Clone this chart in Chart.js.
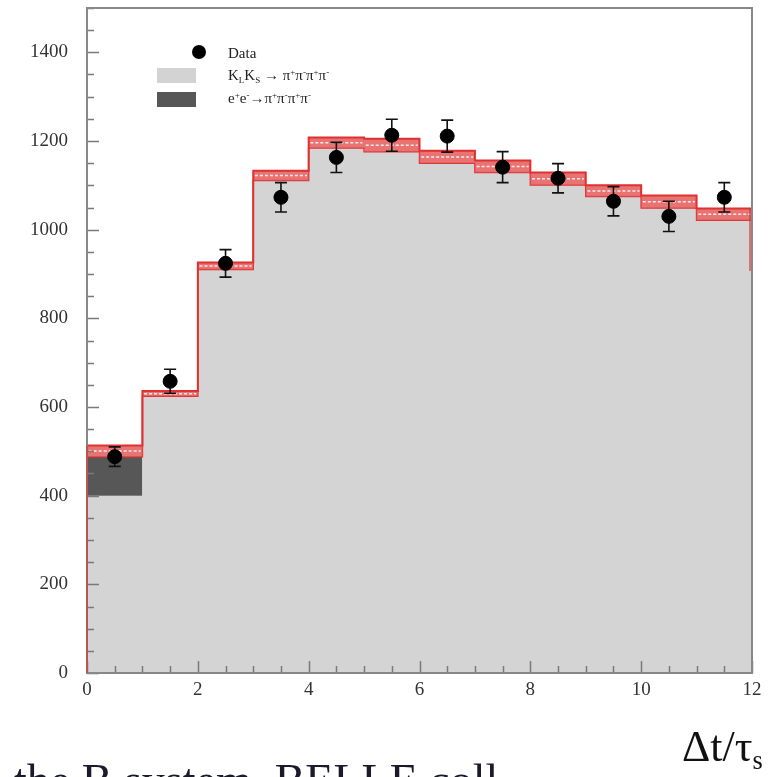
<!DOCTYPE html>
<html><head><meta charset="utf-8">
<script src="https://cdn.jsdelivr.net/npm/chart.js@4.4.0/dist/chart.umd.min.js"></script>
<style>
html,body{margin:0;padding:0;width:768px;height:777px;overflow:hidden;background:#fff;}
#wrap{position:relative;width:768px;height:777px;overflow:hidden;}
canvas{position:absolute;left:0;top:0;}
.t{position:absolute;font-family:'Liberation Serif','Times New Roman',serif;color:#222;white-space:nowrap;line-height:1;}
.t sup{font-size:0.6em;vertical-align:0.55em;line-height:0;}
.t sub{font-size:0.6em;vertical-align:-0.3em;line-height:0;}
.box{position:absolute;}
</style></head><body>
<div id="wrap">
<canvas id="c" width="768" height="777"></canvas>
<div class="box" style="left:192px;top:45px;width:14px;height:14px;border-radius:50%;background:#000;"></div>
<div class="t" style="left:228px;top:46px;font-size:15px;">Data</div>
<div class="box" style="left:157px;top:68px;width:39px;height:15px;background:#d3d3d3;"></div>
<div class="t" style="left:228px;top:68px;font-size:15px;">K<sub>L</sub>K<sub>S</sub> → π<sup>+</sup>π<sup>-</sup>π<sup>+</sup>π<sup>-</sup></div>
<div class="box" style="left:157px;top:92px;width:39px;height:15px;background:#575757;"></div>
<div class="t" style="left:228px;top:91px;font-size:15px;">e<sup>+</sup>e<sup>-</sup>→π<sup>+</sup>π<sup>-</sup>π<sup>+</sup>π<sup>-</sup></div>
<div class="t" style="left:682px;top:725px;font-size:44px;color:#111;">Δt/τ<sub>s</sub></div>
<div class="t" style="left:14px;top:758px;font-size:46px;color:#1a1a2a;">the B system. BELLE coll</div>
</div>
<script>
// ---- data ----
const binEdges = [0,1,2,3,4,5,6,7,8,9,10,11,12];
const klksBkg  = [400, 624, 910, 1111, 1184, 1176, 1150, 1129, 1101, 1075, 1049, 1021];
const eeBkg    = [88, 0, 0, 0, 0, 0, 0, 0, 0, 0, 0, 0];
const mcUpper  = [513, 636, 926, 1133, 1208, 1205, 1178, 1156, 1129, 1100, 1077, 1048];
const rightEdgeDrop = 907;
const dataX   = [0.5, 1.5, 2.5, 3.5, 4.5, 5.5, 6.5, 7.5, 8.5, 9.5, 10.5, 11.5];
const dataY   = [488, 658, 924, 1073, 1163, 1213, 1211, 1141, 1116, 1064, 1030, 1073];
const dataErr = [22, 27, 31, 33, 34, 36, 36, 35, 33, 33, 34, 33];
const yTicks  = [0, 200, 400, 600, 800, 1000, 1200, 1400];
const xTicks  = [0, 2, 4, 6, 8, 10, 12];

const mcLower = klksBkg.map((v,i)=>v+eeBkg[i]);
const mcMid = mcLower.map((v,i)=>(v+mcUpper[i])/2);
function steps(vals){
  const pts = vals.map((v,i)=>({x:binEdges[i], y:v}));
  pts.push({x:binEdges[binEdges.length-1], y:vals[vals.length-1]});
  return pts;
}
function flatSegments(vals){
  const pts = [];
  vals.forEach((v,i)=>{
    pts.push({x:binEdges[i]+0.03, y:v});
    pts.push({x:binEdges[i+1]-0.03, y:v});
    pts.push({x:binEdges[i+1], y:null});
  });
  return pts;
}
const RED = '#e03030';

const decor = {
  id:'decor',
  beforeDatasetDraw(chart, args){
    if(args.index !== 0) return;
    const ctx = chart.ctx, xs = chart.scales.x, ys = chart.scales.y;
    ctx.save();
    ctx.strokeStyle = '#111'; ctx.lineWidth = 1.6;
    dataX.forEach((x,i)=>{
      const px = xs.getPixelForValue(x);
      const y1 = ys.getPixelForValue(dataY[i]-dataErr[i]);
      const y2 = ys.getPixelForValue(dataY[i]+dataErr[i]);
      ctx.beginPath();
      ctx.moveTo(px,y1); ctx.lineTo(px,y2);
      ctx.moveTo(px-6,y1); ctx.lineTo(px+6,y1);
      ctx.moveTo(px-6,y2); ctx.lineTo(px+6,y2);
      ctx.stroke();
    });
    ctx.restore();
  },
  afterDraw(chart){
    const ctx = chart.ctx, xs = chart.scales.x, ys = chart.scales.y, a = chart.chartArea;
    ctx.save();
    ctx.strokeStyle = '#7a7a7a'; ctx.lineWidth = 1.5;
    ctx.beginPath();
    for(let v=0; v<=1500; v+=50){
      const py = Math.round(ys.getPixelForValue(v))+0.5;
      const len = (v%200===0)?12:7;
      ctx.moveTo(a.left,py); ctx.lineTo(a.left+len,py);
    }
    for(let v=0; v<=12; v+=0.5){
      const px = Math.round(xs.getPixelForValue(v))+0.5;
      const len = (v%2===0)?12:7;
      ctx.moveTo(px,a.bottom); ctx.lineTo(px,a.bottom-len);
    }
    ctx.stroke();
    ctx.strokeStyle = '#888'; ctx.lineWidth = 2;
    ctx.strokeRect(a.left, a.top, a.right-a.left, a.bottom-a.top);
    // red histogram outline at the two edges, drawn over the frame
    ctx.strokeStyle = 'rgba(224,48,48,0.8)'; ctx.lineWidth = 1.5;
    ctx.beginPath();
    const x0 = xs.getPixelForValue(binEdges[0]);
    ctx.moveTo(x0, ys.getPixelForValue(0)); ctx.lineTo(x0, ys.getPixelForValue(mcUpper[0]));
    const x1 = xs.getPixelForValue(binEdges[12]) - 2;
    ctx.moveTo(x1, ys.getPixelForValue(mcUpper[11])); ctx.lineTo(x1, ys.getPixelForValue(rightEdgeDrop));
    ctx.stroke();
    ctx.restore();
  }
};

new Chart(document.getElementById('c'), {
  type:'line',
  data:{ datasets:[
    {type:'scatter', label:'Data', data:dataX.map((x,i)=>({x, y:dataY[i]})), pointRadius:7, pointHoverRadius:7,
     pointBackgroundColor:'#000', pointBorderColor:'#000', showLine:false, order:0},
    {label:'edgeL', data:[{x:binEdges[0],y:0},{x:binEdges[0],y:mcUpper[0]}], borderColor:RED, borderWidth:2, pointRadius:0, fill:false, order:1},
    {label:'edgeR', data:[{x:binEdges[12],y:mcUpper[11]},{x:binEdges[12],y:rightEdgeDrop}], borderColor:RED, borderWidth:2, pointRadius:0, fill:false, order:1},
    {label:'hatch', data:flatSegments(mcMid), spanGaps:false, borderColor:'rgba(255,255,255,0.85)', borderWidth:1.5, borderDash:[3,2], pointRadius:0, fill:false, order:2},
    {label:'upper', data:steps(mcUpper), stepped:true, borderColor:RED, borderWidth:2, pointRadius:0, fill:'+1', backgroundColor:'rgba(228,90,90,0.85)', order:3},
    {label:'lower', data:steps(mcLower), stepped:true, borderColor:RED, borderWidth:1.5, pointRadius:0, fill:false, order:4},
    {label:'ee', data:[{x:binEdges[0],y:mcLower[0]},{x:binEdges[1],y:mcLower[0]}], borderWidth:0, pointRadius:0,
     fill:{value:klksBkg[0]}, backgroundColor:'#575757', order:5},
    {label:'KLKS', data:steps(klksBkg), stepped:true, borderWidth:0, pointRadius:0, fill:'origin', backgroundColor:'#d4d4d4', order:6}
  ]},
  options:{
    responsive:false, animation:false, devicePixelRatio:1,
    layout:{padding:{left:0,right:16,top:6,bottom:0}},
    plugins:{legend:{display:false}, tooltip:{enabled:false}},
    scales:{
      x:{type:'linear', min:0, max:12,
         grid:{display:false, drawTicks:false}, border:{display:false},
         afterBuildTicks:s=>{s.ticks = xTicks.map(v=>({value:v}));},
         ticks:{padding:6, autoSkip:false, maxRotation:0, color:'#333', font:{family:'Liberation Serif', size:19},
                callback:v=>String(v)},
         afterFit:s=>{s.height = 104; s.paddingLeft = 0; s.paddingRight = 0;}},
      y:{type:'linear', min:0, max:1500,
         grid:{display:false, drawTicks:false}, border:{display:false},
         afterBuildTicks:s=>{s.ticks = yTicks.map(v=>({value:v}));},
         ticks:{padding:19, color:'#333', font:{family:'Liberation Serif', size:19}, callback:v=>String(v)},
         afterFit:s=>{s.width = 87; s.paddingTop = 0; s.paddingBottom = 0;}}
    }
  },
  plugins:[decor]
});
</script>
</body></html>
